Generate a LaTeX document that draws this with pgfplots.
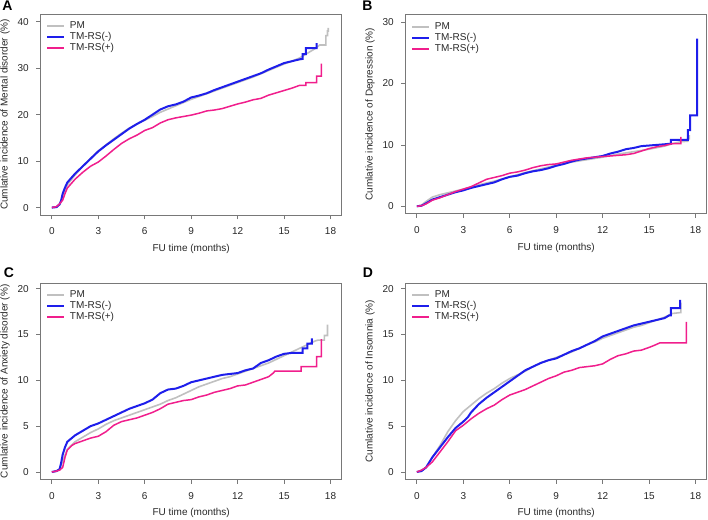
\documentclass[border=0pt]{standalone}
\usepackage{fontspec}
\setmainfont{Liberation Sans}
\usepackage{pgfplots}
\pgfplotsset{compat=1.18}
\definecolor{pmgray}{RGB}{192,192,192}
\definecolor{tmblue}{RGB}{30,30,235}
\definecolor{tmpink}{RGB}{240,30,140}
\definecolor{boxgray}{RGB}{120,120,120}
\definecolor{txt}{RGB}{40,40,40}
\pgfplotsset{
  panel/.style={
    scale only axis, width=301bp, anchor=south west,
    xmin=-0.72, xmax=18.72, xtick={0,3,...,18},
    axis line style={boxgray, line width=0.8bp},
    tick style={boxgray, line width=0.8bp},
    xtick pos=bottom, ytick pos=left, tick align=outside, major tick length=4.5bp,
    minor tick num=0,
    tick label style={font=\fontsize{10bp}{12bp}\selectfont, text=txt},
    xticklabel style={yshift=-5bp},
    yticklabel style={xshift=-4bp},
    /pgf/number format/assume math mode=true,
    label style={font=\fontsize{10bp}{12bp}\selectfont, text=txt},
    xlabel={FU time (months)},
    xlabel style={at={(axis description cs:0.5,0)}, anchor=center, yshift=-34bp},
    ylabel style={at={(axis description cs:-0.1186,0.5)}, anchor=center},
    legend cell align=left,
    legend style={at={(axis description cs:0,1)}, anchor=north west, xshift=5.5bp, yshift=-6.5bp,
      draw=none, fill=none, inner sep=0pt, row sep=0pt,
      font=\fontsize{10bp}{12bp}\selectfont, text=txt,
      nodes={inner ysep=0.5bp, inner xsep=2bp, text height=7.5bp, text depth=2.5bp}},
    legend image code/.code={\draw[##1, line width=2bp] (0bp,0bp) -- (16.5bp,0bp); \path (19.5bp,0bp);},
  },
  pm/.style={pmgray, line width=1.6bp, no marks},
  tmn/.style={tmblue, line width=2bp, no marks},
  tmp/.style={tmpink, line width=1.5bp, no marks},
}
\begin{document}
\begin{tikzpicture}
\path[use as bounding box] (0,0) rectangle (708bp,520bp);
% Panel A
\begin{axis}[panel, at={(40.7bp,305bp)}, height=200.7bp,
  ymin=-1.6, ymax=41.6, ytick={0,10,20,30,40},
  ylabel={Cumlative incidence of Mental disorder (\%)}]
\addplot[pm] coordinates {(0,0) (0.3,0.1) (0.5,0.6) (0.7,2.5) (1,4.9) (1.5,7.0) (2,8.9) (2.5,10.6) (3,12.2) (3.5,13.5) (4,14.8) (4.5,16.0) (5,17.1) (5.5,18.0) (6,18.8) (6.5,19.6) (7,20.5) (7.5,21.2) (8,21.9) (8.5,22.6) (9,23.3) (9.5,23.9) (10,24.5) (10.5,25.1) (11,25.7) (11.5,26.3) (12,26.9) (12.5,27.5) (13,28.1) (13.5,28.8) (14,29.5) (14.5,30.2) (15,30.9) (15.5,31.5) (16,32.2) (16.5,33.2) (17,34.2) (17.3,35.0) (17.7,35.0) (17.7,37.0) (17.8,37.0) (17.8,38.0) (17.85,38.0) (17.85,38.7)};
\addplot[tmn] coordinates {(0,0) (0.3,0.1) (0.5,0.7) (0.6,1.5) (0.7,3.0) (0.85,4.3) (1,5.4) (1.5,7.3) (2,8.9) (2.5,10.5) (3,12.1) (3.5,13.4) (4,14.6) (4.5,15.8) (5,17.0) (5.5,18.0) (6,18.9) (6.5,20.0) (7,21.1) (7.5,21.8) (8,22.2) (8.5,22.8) (9,23.7) (9.5,24.1) (10,24.6) (10.5,25.3) (11,25.9) (11.5,26.5) (12,27.1) (12.5,27.7) (13,28.3) (13.5,28.9) (14,29.7) (14.5,30.4) (15,31.1) (15.5,31.5) (16,31.9) (16.2,32.0) (16.2,33.0) (16.4,33.0) (16.4,34.3) (17.1,34.3) (17.1,35.4)};
\addplot[tmp] coordinates {(0,0) (0.3,0.2) (0.5,0.8) (0.7,1.6) (0.85,3.0) (1,4.2) (1.5,6.1) (2,7.6) (2.5,8.9) (3,9.8) (3.5,11.1) (4,12.5) (4.5,13.8) (5,14.8) (5.5,15.6) (6,16.6) (6.5,17.2) (7,18.2) (7.5,18.9) (8,19.3) (8.5,19.6) (9,19.9) (9.5,20.3) (10,20.8) (10.5,21.0) (11,21.3) (11.5,21.8) (12,22.3) (12.5,22.7) (13,23.2) (13.5,23.5) (14,24.2) (14.5,24.7) (15,25.2) (15.5,25.7) (16,26.3) (16.4,26.3) (16.4,26.9) (17.1,26.9) (17.1,28.3) (17.4,28.3) (17.4,31.0)};
\legend{PM, TM-RS(-), TM-RS(+)}
\end{axis}
% Panel B
\begin{axis}[panel, at={(405.7bp,306.3bp)}, height=199bp,
  ymin=-1.2, ymax=31.2, ytick={0,10,20,30},
  ylabel={Cumlative incidence of Depression (\%)}]
\addplot[pm] coordinates {(0,0) (0.3,0.2) (0.6,0.8) (1,1.5) (1.5,1.9) (2,2.2) (3,2.8) (4,3.5) (5,4.1) (6,4.8) (7,5.5) (8,6.1) (9,6.7) (10,7.2) (11,7.6) (12,8.0) (13,8.5) (14,8.9) (15,9.3) (16,9.8) (16.5,10.2) (17,10.5) (17.5,10.6) (17.5,11.0) (17.6,11.0) (17.6,11.6)};
\addplot[tmn] coordinates {(0,0) (0.3,0.1) (0.6,0.5) (1,1.1) (1.5,1.5) (2,1.9) (2.5,2.3) (3,2.6) (3.5,3.0) (4,3.3) (4.5,3.6) (5,3.9) (5.5,4.4) (6,4.8) (6.5,5.0) (7,5.4) (7.5,5.7) (8,5.9) (8.5,6.2) (9,6.6) (9.5,6.9) (10,7.3) (10.5,7.6) (11,7.8) (11.5,8.0) (12,8.2) (12.5,8.6) (13,8.9) (13.5,9.3) (14,9.5) (14.5,9.8) (15,9.9) (15.5,10.0) (16,10.1) (16.4,10.2) (16.4,10.8) (17.5,10.8) (17.5,12.4) (17.65,12.4) (17.65,14.8) (18.1,14.8) (18.1,27.3)};
\addplot[tmp] coordinates {(0,0) (0.3,0.1) (0.6,0.4) (1,1.0) (1.5,1.4) (2,1.9) (2.5,2.4) (3,2.8) (3.5,3.2) (4,3.8) (4.5,4.4) (5,4.7) (5.5,5.0) (6,5.4) (6.5,5.6) (7,5.9) (7.5,6.3) (8,6.6) (8.5,6.8) (9,6.9) (9.5,7.2) (10,7.5) (10.5,7.7) (11,7.9) (11.5,8.0) (12,8.1) (12.5,8.2) (13,8.3) (13.5,8.4) (14,8.6) (14.5,9.0) (15,9.4) (15.5,9.7) (16,9.9) (16.5,10.2) (17.05,10.2) (17.05,11.3)};
\legend{PM, TM-RS(-), TM-RS(+)}
\end{axis}
% Panel C
\begin{axis}[panel, at={(40.7bp,40.7bp)}, height=196bp,
  ymin=-0.8, ymax=20.6, ytick={0,5,10,15,20},
  ylabel={Cumlative incidence of Anxiety disorder (\%)}]
\addplot[pm] coordinates {(0,0) (0.3,0.1) (0.5,0.3) (0.7,1.2) (1,2.5) (1.5,3.3) (2,3.8) (2.5,4.3) (3,4.7) (3.5,5.2) (4,5.6) (4.5,5.9) (5,6.2) (5.5,6.5) (6,6.8) (6.5,7.1) (7,7.4) (7.5,7.8) (8,8.1) (8.5,8.5) (9,8.9) (9.5,9.3) (10,9.6) (10.5,9.9) (11,10.2) (11.5,10.4) (12,10.7) (12.5,11.0) (13,11.3) (13.5,11.6) (14,11.9) (14.5,12.3) (15,12.7) (15.5,13.1) (16,13.5) (16.5,13.9) (17,14.3) (17.2,14.4) (17.6,14.4) (17.6,14.9) (17.8,14.9) (17.8,16.1)};
\addplot[tmn] coordinates {(0,0) (0.3,0.1) (0.5,0.3) (0.6,1.0) (0.7,1.9) (0.85,2.7) (1,3.3) (1.5,4.0) (2,4.5) (2.5,5.0) (3,5.3) (3.5,5.7) (4,6.1) (4.5,6.5) (5,6.9) (5.5,7.2) (6,7.5) (6.5,7.9) (7,8.6) (7.5,9.0) (8,9.1) (8.5,9.4) (9,9.8) (9.5,10.0) (10,10.2) (10.5,10.4) (11,10.6) (11.5,10.7) (12,10.8) (12.5,11.1) (13,11.3) (13.5,11.9) (14,12.2) (14.5,12.6) (15,12.9) (15.5,13.0) (16.2,13.0) (16.2,13.5) (16.5,13.5) (16.5,14.0) (16.8,14.0) (16.8,14.6)};
\addplot[tmp] coordinates {(0,0) (0.3,0.1) (0.5,0.2) (0.7,0.5) (0.85,1.6) (1,2.4) (1.3,2.9) (1.5,3.1) (2,3.4) (2.5,3.7) (3,3.9) (3.5,4.4) (4,5.1) (4.5,5.5) (5,5.7) (5.5,5.9) (6,6.2) (6.5,6.5) (7,6.9) (7.5,7.4) (8,7.6) (8.5,7.8) (9,7.9) (9.5,8.2) (10,8.4) (10.5,8.7) (11,8.9) (11.5,9.1) (12,9.4) (12.5,9.5) (13,9.8) (13.5,10.1) (14,10.4) (14.3,10.8) (14.4,11.0) (16.1,11.0) (16.1,11.5) (17.1,11.5) (17.1,12.6) (17.4,12.6) (17.4,14.5)};
\legend{PM, TM-RS(-), TM-RS(+)}
\end{axis}
% Panel D
\begin{axis}[panel, at={(405.7bp,40.7bp)}, height=196bp,
  ymin=-0.8, ymax=20.6, ytick={0,5,10,15,20},
  ylabel={Cumlative incidence of Insomnia (\%)}]
\addplot[pm] coordinates {(0,0) (0.3,0.2) (0.6,0.5) (1,1.6) (1.5,2.9) (2,4.4) (2.5,5.6) (3,6.6) (3.5,7.3) (4,8.0) (4.5,8.6) (5,9.1) (5.5,9.7) (6,10.2) (6.5,10.6) (7,11.0) (7.5,11.5) (8,11.9) (8.5,12.2) (9,12.5) (9.5,12.8) (10,13.1) (10.5,13.5) (11,13.9) (11.5,14.2) (12,14.6) (12.5,14.9) (13,15.2) (13.5,15.5) (14,15.8) (14.5,16.0) (15,16.3) (15.5,16.6) (16,16.9) (16.5,17.3) (17,17.4) (17.05,17.4) (17.05,18.5)};
\addplot[tmn] coordinates {(0,0) (0.3,0.1) (0.6,0.5) (1,1.6) (1.5,2.7) (2,3.8) (2.5,4.8) (3,5.5) (3.3,6.0) (3.5,6.5) (4,7.4) (4.5,8.1) (5,8.7) (5.5,9.3) (6,9.9) (6.5,10.5) (7,11.1) (7.5,11.5) (8,11.9) (8.5,12.2) (9,12.4) (9.5,12.8) (10,13.2) (10.5,13.5) (11,13.9) (11.5,14.3) (12,14.8) (12.5,15.1) (13,15.4) (13.5,15.7) (14,16.0) (14.5,16.2) (15,16.4) (15.5,16.6) (16,16.8) (16.3,17.1) (16.4,17.1) (16.4,17.9) (17.0,17.9) (17.0,18.8)};
\addplot[tmp] coordinates {(0,0) (0.3,0.2) (0.6,0.5) (1,1.1) (1.5,2.2) (2,3.3) (2.5,4.5) (3,5.1) (3.5,5.8) (4,6.4) (4.5,6.9) (5,7.3) (5.5,7.9) (6,8.4) (6.5,8.7) (7,9.0) (7.5,9.4) (8,9.8) (8.5,10.2) (9,10.5) (9.5,10.9) (10,11.1) (10.5,11.4) (11,11.5) (11.5,11.6) (12,11.8) (12.5,12.3) (13,12.7) (13.5,12.9) (14,13.2) (14.5,13.3) (15,13.6) (15.3,13.8) (15.7,14.1) (17.4,14.1) (17.4,16.4)};
\legend{PM, TM-RS(-), TM-RS(+)}
\end{axis}
\node[font=\bfseries\fontsize{14bp}{14bp}\selectfont, text=black] at (7.5bp,514.5bp) {A};
\node[font=\bfseries\fontsize{14bp}{14bp}\selectfont, text=black] at (367.5bp,514.5bp) {B};
\node[font=\bfseries\fontsize{14bp}{14bp}\selectfont, text=black] at (9bp,247.5bp) {C};
\node[font=\bfseries\fontsize{14bp}{14bp}\selectfont, text=black] at (368bp,247.5bp) {D};
\end{tikzpicture}
\end{document}
